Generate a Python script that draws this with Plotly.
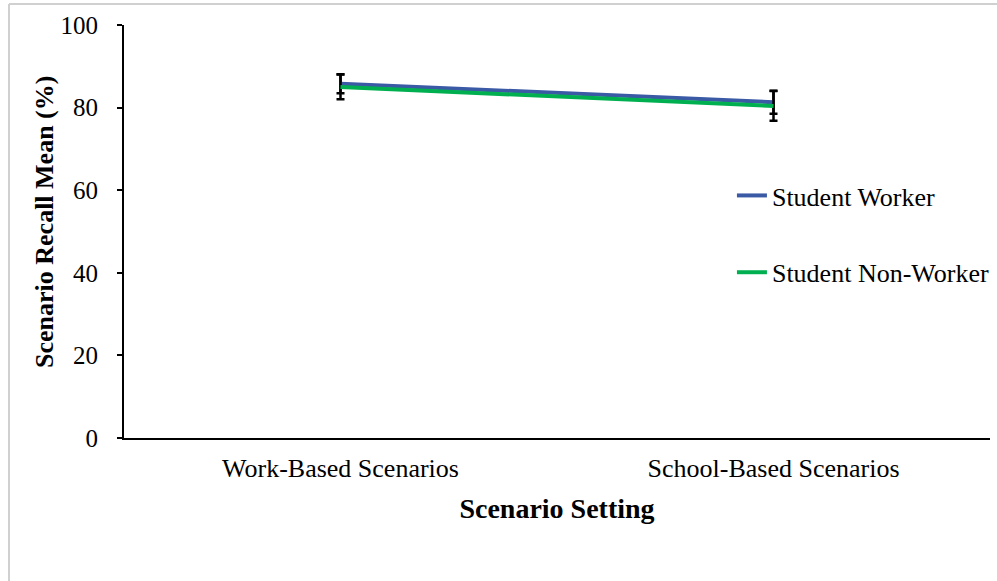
import plotly.graph_objects as go

# Scenario recall means (%) by group and scenario setting
settings = ["Work-Based Scenarios", "School-Based Scenarios"]
worker_mean = [85.8, 81.3]
worker_err = [2.3, 2.8]
nonworker_mean = [85.0, 80.4]
nonworker_err = [3.0, 3.6]
y_ticks = [0, 20, 40, 60, 80, 100]

SERIF = "Liberation Serif"

fig = go.Figure()
fig.add_trace(go.Scatter(
    x=settings, y=worker_mean, mode="lines", name="Student Worker",
    line=dict(color="#3a5aa6", width=4),
    error_y=dict(type="data", array=worker_err, color="black", thickness=2.5, width=4),
    legendgroup="a",
))
fig.add_trace(go.Scatter(
    x=settings, y=nonworker_mean, mode="lines", name="Student Non-Worker",
    line=dict(color="#00b050", width=4),
    error_y=dict(type="data", array=nonworker_err, color="black", thickness=2.5, width=4),
    legendgroup="b",
))

# thin grey frame edges along the top and left of the figure
fig.add_shape(type="line", xref="paper", yref="paper",
              x0=-0.1328, x1=1.01, y0=1.0508, y1=1.0508,
              line=dict(color="#d0d0d0", width=2))
fig.add_shape(type="line", xref="paper", yref="paper",
              x0=-0.1328, x1=-0.1328, y0=-0.36, y1=1.0508,
              line=dict(color="#d0d0d0", width=2))

# vertical axis title
fig.add_annotation(
    text="<b>Scenario Recall Mean (%)</b>", textangle=-90,
    xref="paper", yref="paper", x=-0.0924, y=0.523,
    xanchor="center", yanchor="middle", showarrow=False,
    font=dict(size=26, family=SERIF, color="black"),
)

fig.update_layout(
    width=997, height=581,
    margin=dict(l=124, r=7, t=25, b=143, autoexpand=False),
    paper_bgcolor="white", plot_bgcolor="white",
    font=dict(family=SERIF, size=24, color="black"),
    showlegend=True,
    legend=dict(
        x=0.702, y=0.644, xanchor="left", yanchor="top",
        bgcolor="rgba(0,0,0,0)", font=dict(size=26, family=SERIF),
        tracegroupgap=40, traceorder="grouped",
    ),
    xaxis=dict(
        range=[-0.5, 1.5], automargin=False,
        showline=True, linecolor="black", linewidth=2,
        showgrid=False, zeroline=False, ticks="",
        ticklabelstandoff=6,
        tickfont=dict(size=26, family=SERIF),
        title=dict(text="<b>Scenario Setting</b>", font=dict(size=28, family=SERIF), standoff=16),
    ),
    yaxis=dict(
        range=[0, 100], tickvals=y_ticks, automargin=False,
        showline=True, linecolor="black", linewidth=2,
        showgrid=False, zeroline=False,
        ticks="outside", ticklen=5, tickwidth=1.5, tickcolor="black",
        ticklabelstandoff=14,
        tickfont=dict(size=25, family=SERIF),
    ),
)

fig.write_html("out.html")
